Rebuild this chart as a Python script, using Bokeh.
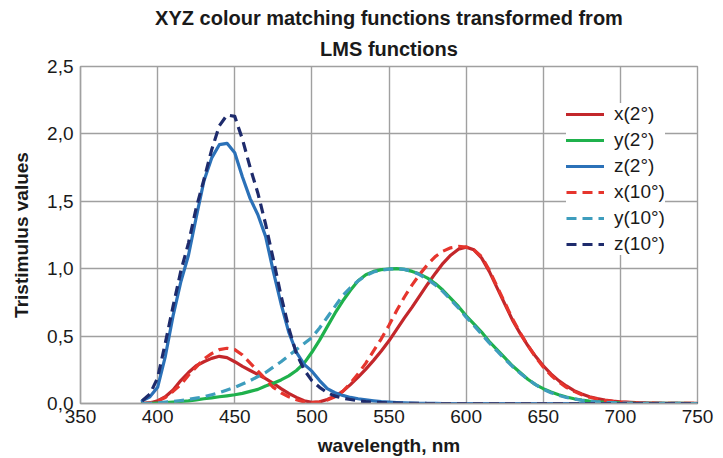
from bokeh.plotting import figure
from bokeh.models import (FixedTicker, CustomJSTickFormatter, Legend, LegendItem,
                          Title, Range1d, ColumnDataSource)
from bokeh.embed import file_html
from bokeh.resources import INLINE

# ---------------- data ----------------
wavelength = list(range(390, 705, 5)) + [710, 720, 730, 740, 750]

x2 = [0.0, 0.004, 0.02, 0.05, 0.10, 0.17, 0.23, 0.28, 0.31, 0.335,
      0.35, 0.34, 0.31, 0.275, 0.245, 0.215, 0.185, 0.15, 0.11, 0.075,
      0.045, 0.02, 0.008, 0.012, 0.03, 0.055, 0.09, 0.14, 0.195, 0.255,
      0.32, 0.39, 0.465, 0.55, 0.635, 0.715, 0.80, 0.885, 0.965, 1.04,
      1.10, 1.145, 1.16, 1.14, 1.08, 0.98, 0.86, 0.74, 0.62, 0.52,
      0.43, 0.35, 0.28, 0.22, 0.17, 0.13, 0.095, 0.07, 0.05, 0.036,
      0.025, 0.017, 0.012, 0.006, 0.003, 0.0015, 0.0007, 0.0003]

y2 = [0.0, 0.001, 0.003, 0.006, 0.01, 0.015, 0.02, 0.027, 0.035, 0.042,
      0.05, 0.057, 0.065, 0.075, 0.09, 0.105, 0.13, 0.15, 0.175, 0.205,
      0.245, 0.30, 0.38, 0.47, 0.57, 0.67, 0.76, 0.84, 0.91, 0.955,
      0.98, 0.993, 0.998, 1.0, 0.995, 0.98, 0.96, 0.93, 0.89, 0.84,
      0.78, 0.72, 0.65, 0.59, 0.53, 0.46, 0.40, 0.34, 0.28, 0.23,
      0.18, 0.14, 0.11, 0.085, 0.065, 0.048, 0.035, 0.025, 0.018, 0.013,
      0.009, 0.006, 0.004, 0.002, 0.001, 0.0005, 0.0002, 0.0001]

z2 = [0.02, 0.05, 0.12, 0.35, 0.65, 0.90, 1.10, 1.38, 1.65, 1.82,
      1.92, 1.93, 1.86, 1.68, 1.52, 1.40, 1.24, 0.98, 0.74, 0.53,
      0.38, 0.29, 0.24, 0.17, 0.11, 0.08, 0.06, 0.045, 0.035, 0.027,
      0.02, 0.014, 0.01, 0.007, 0.005, 0.003, 0.002, 0.001, 0.001, 0.0,
      0.0, 0.0, 0.0, 0.0, 0.0, 0.0, 0.0, 0.0, 0.0, 0.0,
      0.0, 0.0, 0.0, 0.0, 0.0, 0.0, 0.0, 0.0, 0.0, 0.0,
      0.0, 0.0, 0.0, 0.0, 0.0, 0.0, 0.0, 0.0]

x10 = [0.0, 0.005, 0.02, 0.045, 0.09, 0.14, 0.21, 0.27, 0.33, 0.37,
       0.40, 0.41, 0.40, 0.36, 0.30, 0.24, 0.18, 0.12, 0.08, 0.05,
       0.028, 0.012, 0.006, 0.01, 0.025, 0.05, 0.09, 0.15, 0.22, 0.30,
       0.39, 0.48, 0.58, 0.69, 0.79, 0.88, 0.96, 1.03, 1.09, 1.13,
       1.155, 1.165, 1.16, 1.14, 1.09, 0.99, 0.87, 0.75, 0.63, 0.525,
       0.43, 0.345, 0.27, 0.21, 0.16, 0.12, 0.09, 0.065, 0.046, 0.033,
       0.023, 0.016, 0.011, 0.005, 0.0025, 0.0012, 0.0006, 0.0003]

y10 = [0.0, 0.002, 0.005, 0.01, 0.015, 0.022, 0.03, 0.04, 0.05, 0.065,
       0.08, 0.10, 0.12, 0.145, 0.17, 0.20, 0.23, 0.27, 0.31, 0.355,
       0.40, 0.445, 0.49, 0.56, 0.64, 0.72, 0.80, 0.86, 0.91, 0.95,
       0.975, 0.99, 0.997, 1.0, 0.995, 0.98, 0.955, 0.92, 0.88, 0.83,
       0.77, 0.71, 0.64, 0.58, 0.515, 0.45, 0.39, 0.33, 0.275, 0.225,
       0.18, 0.14, 0.105, 0.08, 0.06, 0.045, 0.033, 0.024, 0.017, 0.012,
       0.008, 0.006, 0.004, 0.002, 0.001, 0.0005, 0.0002, 0.0001]

z10 = [0.02, 0.07, 0.19, 0.45, 0.72, 0.98, 1.19, 1.45, 1.66, 1.88,
       2.06, 2.14, 2.13, 1.96, 1.75, 1.56, 1.33, 1.07, 0.80, 0.56,
       0.37, 0.25, 0.17, 0.12, 0.08, 0.055, 0.04, 0.03, 0.02, 0.014,
       0.01, 0.007, 0.005, 0.003, 0.002, 0.001, 0.001, 0.0, 0.0, 0.0,
       0.0, 0.0, 0.0, 0.0, 0.0, 0.0, 0.0, 0.0, 0.0, 0.0,
       0.0, 0.0, 0.0, 0.0, 0.0, 0.0, 0.0, 0.0, 0.0, 0.0,
       0.0, 0.0, 0.0, 0.0, 0.0, 0.0, 0.0, 0.0]

series_names = ["x(2°)", "y(2°)", "z(2°)", "x(10°)", "y(10°)", "z(10°)"]
x_ticks = [350, 400, 450, 500, 550, 600, 650, 700, 750]
y_ticks = [0.0, 0.5, 1.0, 1.5, 2.0, 2.5]

title_lines = ["XYZ colour matching functions transformed from", "LMS functions"]
x_label = "wavelength, nm"
y_label = "Tristimulus values"

# ---------------- style ----------------
FONT = "Liberation Sans"
GRID = "#a0a0a0"
colors = ["#c3272b", "#1fb14c", "#2b71b8", "#e6352d", "#3e9dbd", "#1e2b6c"]
dashes = ["solid", "solid", "solid", "10 6", "10 6", "10 6"]

src = ColumnDataSource(dict(wl=wavelength, x2=x2, y2=y2, z2=z2,
                            x10=x10, y10=y10, z10=z10))
cols = ["x2", "y2", "z2", "x10", "y10", "z10"]

p = figure(width=723, height=458, output_backend="svg", toolbar_location=None,
           x_range=Range1d(350, 750), y_range=Range1d(0, 2.5),
           min_border_left=80, min_border_right=26, min_border_top=66,
           min_border_bottom=55)
p.title = None
p.background_fill_color = "white"
p.border_fill_color = "white"
p.outline_line_color = GRID
p.outline_line_width = 1.4

p.xaxis.ticker = FixedTicker(ticks=x_ticks)
p.yaxis.ticker = FixedTicker(ticks=y_ticks)
p.yaxis.formatter = CustomJSTickFormatter(code="return tick.toFixed(1).replace('.', ',');")

for ax in (p.xaxis, p.yaxis):
    ax.major_tick_out = 0
    ax.major_tick_in = 0
    ax.minor_tick_out = 0
    ax.minor_tick_in = 0
    ax.axis_line_color = GRID
    ax.axis_line_width = 1.4
    ax.major_label_text_font = FONT
    ax.major_label_text_font_size = "19px"
    ax.major_label_text_color = "#1a1a1a"
    ax.axis_label_text_font = FONT
    ax.axis_label_text_font_size = "19px"
    ax.axis_label_text_font_style = "bold"
    ax.axis_label_text_color = "#1a1a1a"

p.xaxis.axis_label = x_label
p.yaxis.axis_label = y_label
p.xaxis.major_label_standoff = 6
p.xaxis.axis_label_standoff = 9
p.yaxis.major_label_standoff = 7
p.yaxis.axis_label_standoff = 12

p.xgrid.grid_line_color = GRID
p.ygrid.grid_line_color = GRID
p.xgrid.grid_line_width = 1.4
p.ygrid.grid_line_width = 1.4

renderers = []
for c, col, dash in zip(cols, colors, dashes):
    r = p.line("wl", c, source=src, line_color=col, line_width=3.2,
               line_dash=dash, line_cap="round" if dash == "solid" else "butt",
               line_join="round")
    renderers.append(r)

legend = Legend(items=[LegendItem(label=n, renderers=[r]) for n, r in zip(series_names, renderers)],
                location=(486, 148), glyph_width=38, glyph_height=20, spacing=4,
                padding=8, margin=0, label_standoff=10,
                label_text_font=FONT, label_text_font_size="19px",
                label_text_color="#1a1a1a",
                border_line_color=None, background_fill_color="white",
                background_fill_alpha=1.0)
p.add_layout(legend, "center")

# two-line title: the first title added sits nearest the frame
p.add_layout(Title(text=title_lines[1], align="center", text_font=FONT,
                   text_font_size="20px", text_font_style="bold",
                   text_color="#1a1a1a", standoff=13), "above")
p.add_layout(Title(text=title_lines[0], align="center", text_font=FONT,
                   text_font_size="20px", text_font_style="bold",
                   text_color="#1a1a1a", standoff=1), "above")

open("out.html", "w").write(file_html(p, INLINE))
